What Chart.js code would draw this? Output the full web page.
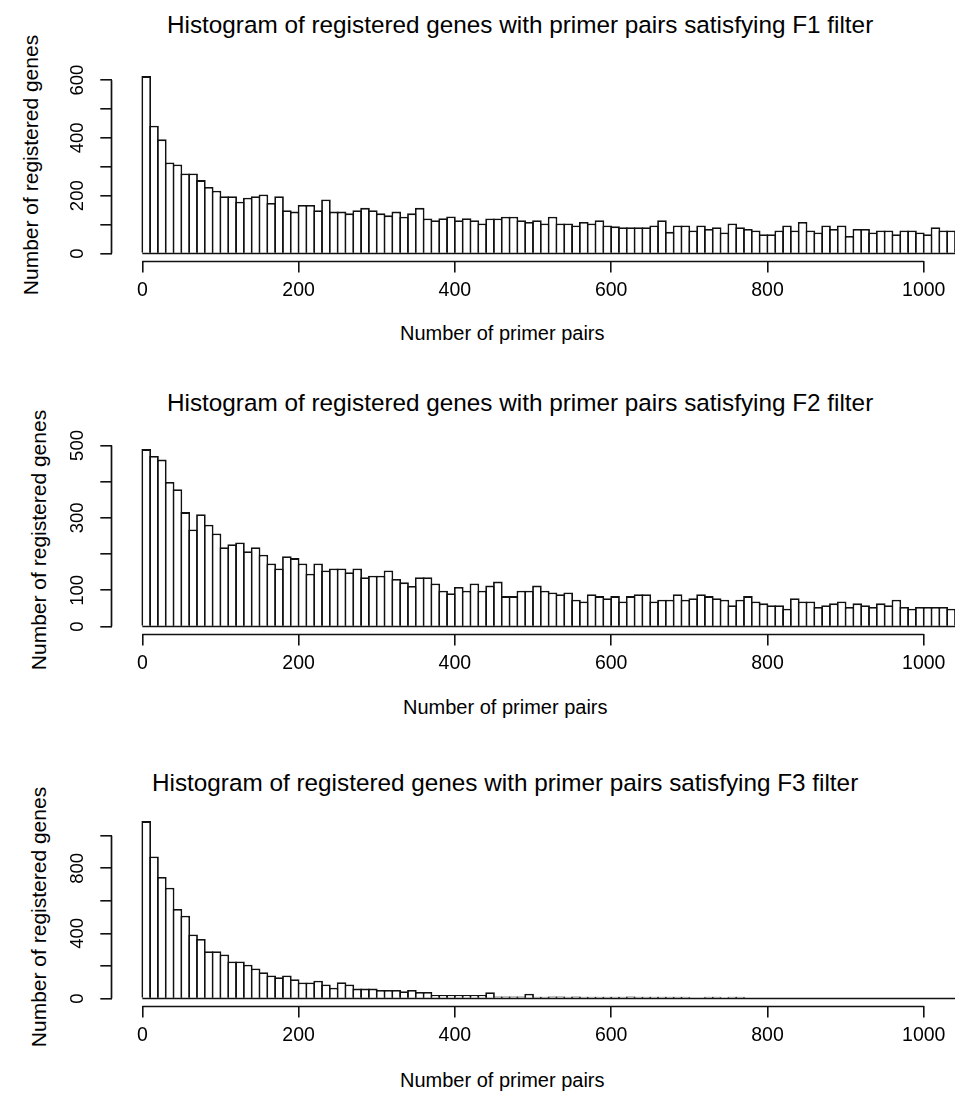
<!DOCTYPE html>
<html>
<head>
<meta charset="utf-8">
<script src="https://cdn.jsdelivr.net/npm/chart.js@4"></script>
<style>
  html, body { margin: 0; padding: 0; background: #fff; }
  body { width: 965px; height: 1098px; position: relative; overflow: hidden; font-family: "Liberation Sans", Arial, sans-serif; color: #000; }
  canvas { position: absolute; left: 0; }
  .t { position: absolute; white-space: nowrap; line-height: 1; }
  .title { font-size: 24.3px; transform: translateY(-50%); }
  .xlab { font-size: 20px; transform: translateY(-50%); }
  .ylab { font-size: 21px; transform: translate(-50%, -50%) rotate(-90deg); }
</style>
</head>
<body>
<div class="t title" style="left:167px; top:25px;">Histogram of registered genes with primer pairs satisfying F1 filter</div>
<div class="t title" style="left:167px; top:403px;">Histogram of registered genes with primer pairs satisfying F2 filter</div>
<div class="t title" style="left:152px; top:782.5px;">Histogram of registered genes with primer pairs satisfying F3 filter</div>

<div class="t ylab" style="left:30px; top:165px;">Number of registered genes</div>
<div class="t ylab" style="left:38px; top:540px;">Number of registered genes</div>
<div class="t ylab" style="left:38px; top:916.5px;">Number of registered genes</div>

<div class="t xlab" style="left:400px; top:333px;">Number of primer pairs</div>
<div class="t xlab" style="left:403px; top:707px;">Number of primer pairs</div>
<div class="t xlab" style="left:400px; top:1080px;">Number of primer pairs</div>

<canvas id="c1" width="965" height="267" style="top:48.8px"></canvas>
<canvas id="c2" width="965" height="267" style="top:421.8px"></canvas>
<canvas id="c3" width="965" height="267" style="top:793.8px"></canvas>

<script>
// ---------- data ----------
const binWidth = 10;
const binCount = 104;
const binStarts = Array.from({ length: binCount }, (_, i) => i * binWidth);

const f1Counts = [
  614, 442, 395, 315, 308, 277, 277, 254, 230, 217,
  198, 198, 179, 193, 198, 204, 175, 198, 150, 145,
  168, 168, 150, 187, 145, 145, 139, 150, 158, 150,
  139, 132, 145, 127, 139, 158, 121, 115, 122, 128,
  115, 122, 115, 104, 121, 121, 127, 127, 115, 109,
  115, 104, 127, 104, 104, 97, 109, 104, 115, 97,
  94, 91, 91, 91, 91, 97, 115, 75, 97, 97,
  80, 97, 85, 91, 73, 104, 91, 85, 80, 67,
  67, 80, 97, 80, 109, 80, 73, 97, 85, 97,
  61, 85, 85, 73, 80, 80, 67, 80, 80, 73,
  67, 91, 80, 80
];

const f2Counts = [
  490, 471, 461, 399, 379, 316, 268, 310, 281, 257,
  219, 227, 232, 208, 219, 198, 174, 160, 194, 189,
  174, 146, 174, 155, 160, 160, 150, 160, 136, 140,
  140, 155, 131, 122, 112, 136, 136, 119, 99, 92,
  109, 99, 119, 99, 113, 124, 84, 84, 99, 99,
  113, 99, 94, 89, 94, 74, 69, 89, 84, 78,
  84, 69, 84, 89, 89, 69, 74, 74, 89, 74,
  78, 89, 84, 78, 74, 59, 74, 84, 69, 64,
  59, 59, 49, 78, 69, 69, 54, 59, 64, 69,
  54, 64, 59, 54, 64, 59, 74, 54, 49, 54,
  54, 54, 54, 49
];

const f3Counts = [
  1090, 873, 747, 681, 550, 509, 393, 366, 290, 290,
  270, 227, 227, 207, 184, 161, 141, 131, 141, 118,
  98, 98, 109, 86, 66, 100, 86, 61, 61, 61,
  53, 53, 53, 45, 53, 40, 40, 22, 22, 22,
  22, 22, 22, 22, 39, 12, 12, 12, 12, 29,
  5, 5, 12, 12, 5, 12, 5, 5, 5, 5,
  5, 5, 12, 5, 5, 5, 5, 5, 5, 5,
  0, 0, 5, 5, 0, 5, 5, 0, 0, 0,
  0, 0, 0, 0, 0, 0, 0, 0, 0, 0,
  0, 0, 0, 0, 0, 0, 0, 0, 0, 0,
  0, 0, 0, 0
];

const xTicks = [0, 200, 400, 600, 800, 1000];
const f1YTicks = [0, 100, 200, 300, 400, 500, 600];
const f1YLabels = [0, 200, 400, 600];
const f2YTicks = [0, 100, 200, 300, 400, 500];
const f2YLabels = [0, 100, 300, 500];
const f3YTicks = [0, 200, 400, 600, 800, 1000];
const f3YLabels = [0, 400, 800];

// ---------- drawing ----------
const INK = '#111111';
const FONT = "'Liberation Sans', Arial, sans-serif";
Chart.defaults.font.family = FONT;
Chart.defaults.color = '#000';

const axisLinesPlugin = {
  id: 'rAxes',
  afterDraw(chart) {
    const { ctx, chartArea, scales } = chart;
    const x = scales.x, y = scales.y;
    const yt = chart.options.plugins.rAxes.yTicks;
    ctx.save();
    ctx.strokeStyle = INK;
    ctx.lineWidth = 1.7;
    // baseline under the bars
    ctx.beginPath();
    const y0 = y.getPixelForValue(0);
    ctx.moveTo(x.getPixelForValue(binStarts[0]), y0);
    ctx.lineTo(x.getPixelForValue(binStarts[binStarts.length - 1] + binWidth), y0);
    ctx.stroke();
    // x axis line (first to last tick)
    ctx.beginPath();
    const yb = Math.round(chartArea.bottom) + 0.5;
    ctx.moveTo(x.getPixelForValue(xTicks[0]), yb);
    ctx.lineTo(x.getPixelForValue(xTicks[xTicks.length - 1]), yb);
    ctx.stroke();
    // y axis line
    ctx.beginPath();
    const xl = Math.round(chartArea.left) - 0.5;
    ctx.moveTo(xl, y.getPixelForValue(yt[0]));
    ctx.lineTo(xl, y.getPixelForValue(yt[yt.length - 1]));
    ctx.stroke();
    ctx.restore();
  }
};

function makePanel(id, counts, yTicks, yLabels) {
  const maxCount = Math.max(...counts);
  const points = binStarts.map((s, i) => ({ x: s + binWidth / 2, y: counts[i] === 0 ? null : counts[i] }));
  new Chart(document.getElementById(id), {
    type: 'bar',
    data: {
      datasets: [{
        data: points,
        backgroundColor: '#ffffff',
        borderColor: INK,
        borderWidth: 1.8,
        borderSkipped: 'start',
        barPercentage: 1.23,
        categoryPercentage: 1,
        inflateAmount: 0,
        minBarLength: 1.7
      }]
    },
    options: {
      responsive: false,
      animation: false,
      devicePixelRatio: 1,
      layout: { padding: { top: 20, right: 10, left: 0, bottom: 0 } },
      plugins: {
        legend: { display: false },
        tooltip: { enabled: false },
        rAxes: { yTicks: yTicks }
      },
      scales: {
        x: {
          type: 'linear',
          offset: false,
          min: -38.4,
          max: binStarts[binStarts.length - 1] + binWidth,
          afterBuildTicks: s => { s.ticks = xTicks.map(v => ({ value: v })); },
          afterFit: s => { s.height = 55.4; },
          grid: { offset: false, drawOnChartArea: false, drawTicks: true, tickLength: 12, color: INK, lineWidth: 1.6 },
          border: { display: false },
          ticks: { font: { size: 19.5 }, color: '#000', padding: 6, maxRotation: 0, autoSkip: false, callback: v => String(v) }
        },
        y: {
          type: 'linear',
          min: -0.04 * maxCount,
          max: 1.04 * maxCount,
          afterBuildTicks: s => { s.ticks = yTicks.map(v => ({ value: v })); },
          afterFit: s => { s.width = 112.3; },
          grid: { drawOnChartArea: false, drawTicks: true, tickLength: 12, color: INK, lineWidth: 1.6 },
          border: { display: false },
          ticks: {
            font: { size: 18.5 },
            color: '#000',
            padding: 7.4,
            minRotation: 90,
            maxRotation: 90,
            crossAlign: 'center',
            autoSkip: false,
            callback: v => (yLabels.includes(v) ? String(v) : '')
          }
        }
      }
    },
    plugins: [axisLinesPlugin]
  });
}

makePanel('c1', f1Counts, f1YTicks, f1YLabels);
makePanel('c2', f2Counts, f2YTicks, f2YLabels);
makePanel('c3', f3Counts, f3YTicks, f3YLabels);
</script>
</body>
</html>
